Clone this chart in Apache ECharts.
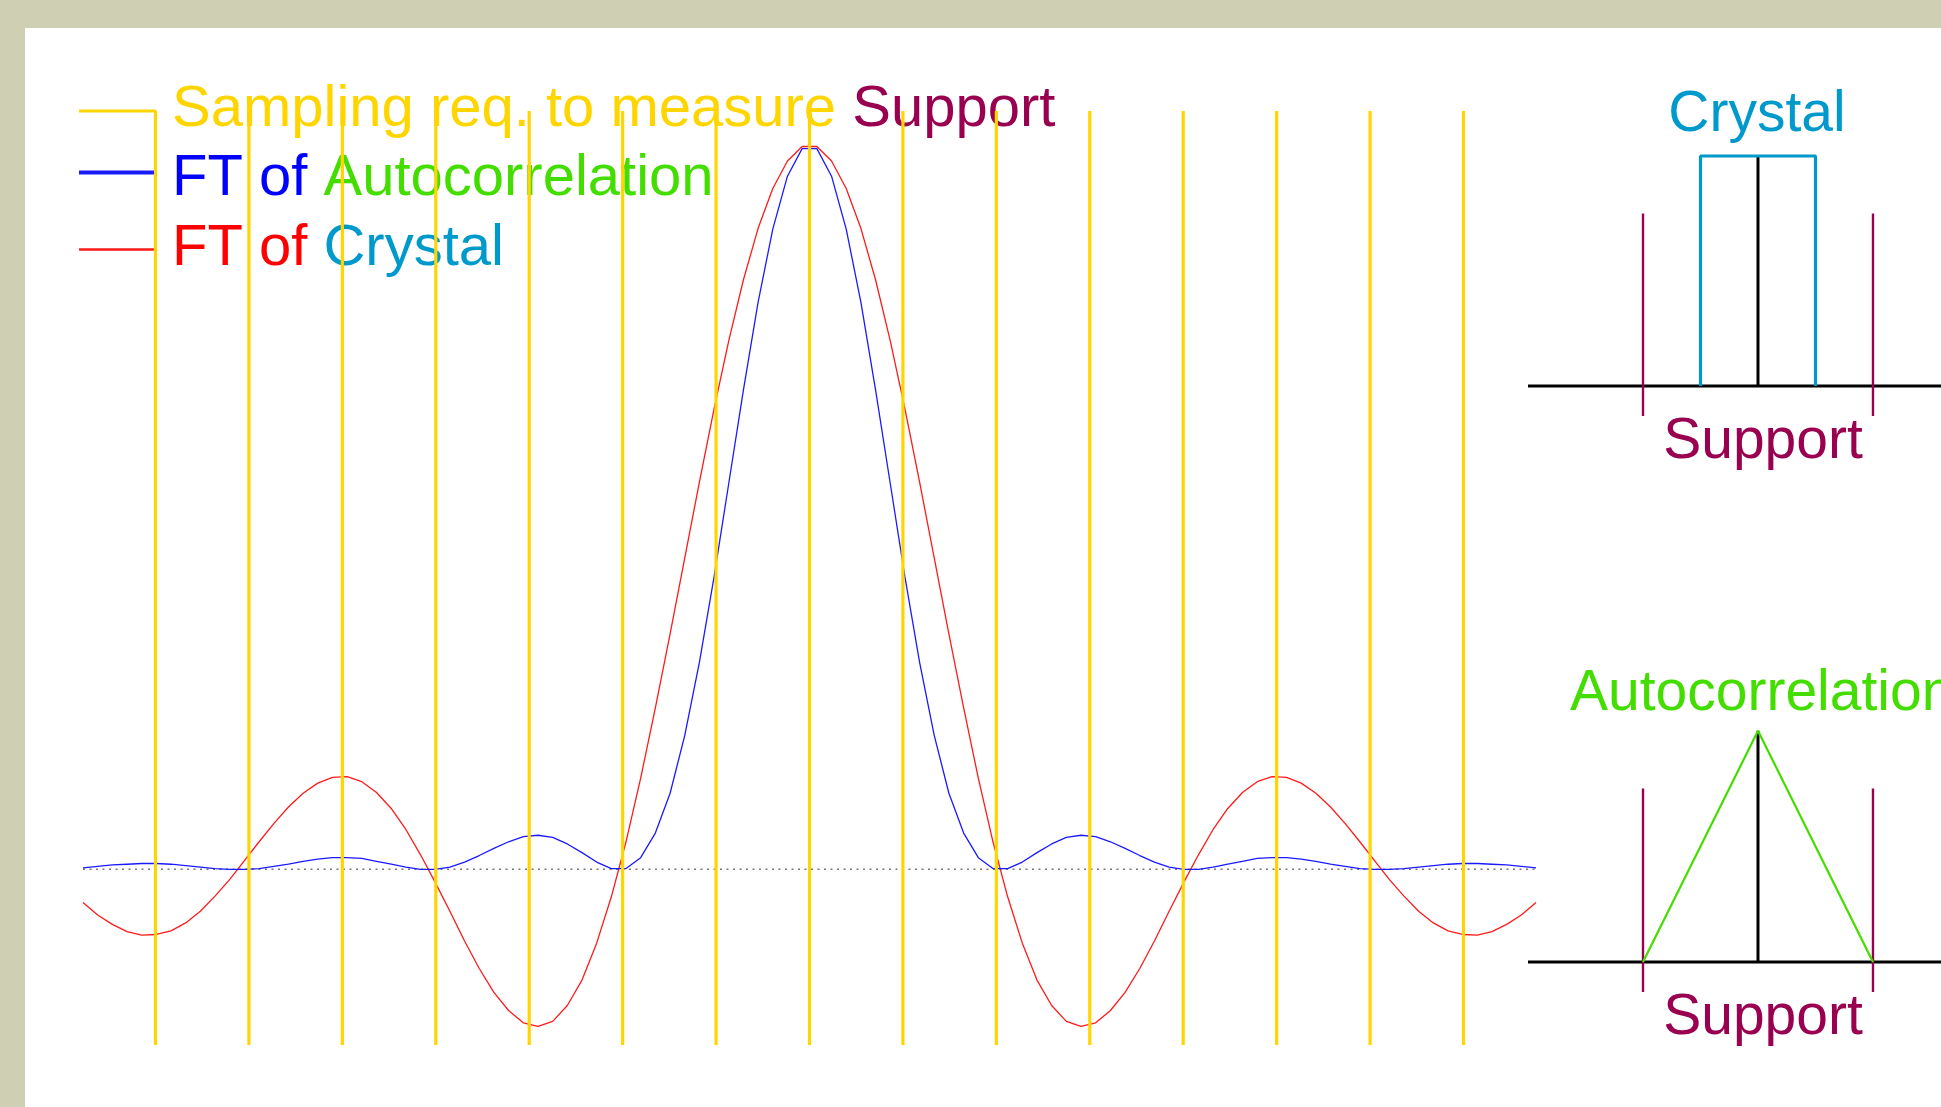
<!DOCTYPE html>
<html>
<head>
<meta charset="utf-8">
<script src="https://cdn.jsdelivr.net/npm/echarts@6/dist/echarts.min.js"></script>
<style>
  html, body { margin: 0; padding: 0; background: #cfcfb4; overflow: hidden; }
  #frame { position: absolute; left: 25px; top: 28px; right: 0; bottom: 0; background: #ffffff; }
  #chart { position: absolute; left: 0; top: 0; width: 1941px; height: 1107px; }
</style>
</head>
<body>
<div id="frame"></div>
<div id="chart"></div>
<script>
// x in units of the sampling interval (yellow lines at integers)
var xs = [
  -7.776, -7.619, -7.462, -7.305, -7.148, -6.991, -6.834, -6.677, -6.520, -6.363,
  -6.205, -6.048, -5.891, -5.734, -5.577, -5.420, -5.263, -5.106, -4.949, -4.792,
  -4.634, -4.477, -4.320, -4.163, -4.006, -3.849, -3.692, -3.535, -3.378, -3.221,
  -3.063, -2.906, -2.749, -2.592, -2.435, -2.278, -2.121, -1.964, -1.807, -1.650,
  -1.492, -1.335, -1.178, -1.021, -0.864, -0.707, -0.550, -0.393, -0.236, -0.079,
  0.079, 0.236, 0.393, 0.550, 0.707, 0.864, 1.021, 1.178, 1.335, 1.492,
  1.650, 1.807, 1.964, 2.121, 2.278, 2.435, 2.592, 2.749, 2.906, 3.063,
  3.221, 3.378, 3.535, 3.692, 3.849, 4.006, 4.163, 4.320, 4.477, 4.634,
  4.792, 4.949, 5.106, 5.263, 5.420, 5.577, 5.734, 5.891, 6.048, 6.205,
  6.363, 6.520, 6.677, 6.834, 6.991, 7.148, 7.305, 7.462, 7.619, 7.776
];
// FT of Crystal (red)
var ftCrystal = [
  -0.046, -0.063, -0.076, -0.086, -0.091, -0.090, -0.085, -0.074, -0.058, -0.037,
  -0.014, 0.012, 0.038, 0.063, 0.086, 0.105, 0.119, 0.127, 0.128, 0.121,
  0.106, 0.084, 0.055, 0.020, -0.018, -0.058, -0.099, -0.137, -0.170, -0.195,
  -0.212, -0.217, -0.210, -0.188, -0.153, -0.102, -0.038, 0.038, 0.126, 0.223,
  0.325, 0.430, 0.535, 0.636, 0.730, 0.814, 0.885, 0.940, 0.978, 0.998,
  0.998, 0.978, 0.940, 0.885, 0.814, 0.730, 0.636, 0.535, 0.430, 0.325,
  0.223, 0.126, 0.038, -0.038, -0.102, -0.153, -0.188, -0.210, -0.217, -0.212,
  -0.195, -0.170, -0.137, -0.099, -0.058, -0.018, 0.020, 0.055, 0.084, 0.106,
  0.121, 0.128, 0.127, 0.119, 0.105, 0.086, 0.063, 0.038, 0.012, -0.014,
  -0.037, -0.058, -0.074, -0.085, -0.090, -0.091, -0.086, -0.076, -0.063, -0.046
];
// FT of Autocorrelation (blue)
var ftAuto = [
  0.002, 0.004, 0.006, 0.007, 0.008, 0.008, 0.007, 0.005, 0.003, 0.001,
  0.000, 0.000, 0.001, 0.004, 0.007, 0.011, 0.014, 0.016, 0.016, 0.015,
  0.011, 0.007, 0.003, 0.000, 0.000, 0.003, 0.010, 0.019, 0.029, 0.038,
  0.045, 0.047, 0.044, 0.035, 0.023, 0.010, 0.001, 0.001, 0.016, 0.050,
  0.105, 0.185, 0.286, 0.404, 0.533, 0.662, 0.783, 0.884, 0.957, 0.995,
  0.995, 0.957, 0.884, 0.783, 0.662, 0.533, 0.404, 0.286, 0.185, 0.105,
  0.050, 0.016, 0.001, 0.001, 0.010, 0.023, 0.035, 0.044, 0.047, 0.045,
  0.038, 0.029, 0.019, 0.010, 0.003, 0.000, 0.000, 0.003, 0.007, 0.011,
  0.015, 0.016, 0.016, 0.014, 0.011, 0.007, 0.004, 0.001, 0.000, 0.000,
  0.001, 0.003, 0.005, 0.007, 0.008, 0.008, 0.007, 0.006, 0.004, 0.002
];
// sampling positions (yellow lines)
var samplePos = [-7, -6, -5, -4, -3, -2, -1, 0, 1, 2, 3, 4, 5, 6, 7];
var yMin = -0.2426, yMax = 1.047;

// inset diagrams (own units: crystal half width = 1, height = 1)
var insetAxisX = [-4, 4];
var supportX = [-2, 2];
var supportY = [-0.13, 0.75];
var crystalX = [-1, -1, 1, 1];
var crystalY = [0, 1, 1, 0];
var autoX = [-2, 0, 2];
var autoY = [0, 1, 0];

var FONT = '"Liberation Sans", Arial, sans-serif';
var C = {
  yellow: '#ffd500', maroon: '#990050', blue: '#0000ff', green: '#44dd00',
  red: '#ff0000', crystal: '#0099cc', black: '#000000'
};

function pairs(a, b) { return a.map(function (v, i) { return [v, b[i]]; }); }

var yellowData = [];
samplePos.forEach(function (x) {
  yellowData.push([x, yMin], [x, yMax], [x, '-']);
});
var supportData = [];
supportX.forEach(function (x) {
  supportData.push([x, supportY[0]], [x, supportY[1]], [x, '-']);
});

function tok(color) {
  return { color: color, fontSize: 58, fontFamily: FONT, lineHeight: 60 };
}
var legendLabels = {
  'Sampling': '{y|Sampling req. to measure }{m|Support}',
  'FT Auto': '{b|FT of }{g|Autocorrelation}',
  'FT Crystal': '{r|FT of }{c|Crystal}'
};
var hideDot = { color: 'rgba(0,0,0,0)', borderColor: 'rgba(0,0,0,0)', borderWidth: 0, opacity: 0 };

function insetSeries(g, shape) {
  return [
    { type: 'line', xAxisIndex: g, yAxisIndex: g, symbol: 'none', z: 3,
      data: pairs(insetAxisX, [0, 0]), lineStyle: { color: C.black, width: 3 } },
    { type: 'line', xAxisIndex: g, yAxisIndex: g, symbol: 'none', z: 3,
      data: supportData, lineStyle: { color: C.maroon, width: 2.4 } },
    { type: 'line', xAxisIndex: g, yAxisIndex: g, symbol: 'none', z: 3,
      data: [[0, 0], [0, 1]], lineStyle: { color: C.black, width: 3 } },
    shape
  ];
}

var chart = echarts.init(document.getElementById('chart'));
var option = {
  backgroundColor: 'transparent',
  animation: false,
  legend: {
    left: 77, top: 80, orient: 'vertical', padding: 0, itemGap: -6,
    itemWidth: 77, itemHeight: 14, selectedMode: false, z: 4,
    data: [
      { name: 'Sampling', lineStyle: { width: 3 }, itemStyle: hideDot,
        textStyle: { padding: [0, 0, 2, 11] } },
      { name: 'FT Auto', lineStyle: { width: 4 }, itemStyle: hideDot,
        textStyle: { padding: [13, 0, 0, 11] } },
      { name: 'FT Crystal', lineStyle: { width: 2.5 }, itemStyle: hideDot,
        textStyle: { padding: [16, 0, 17, 11] } }
    ],
    formatter: function (name) { return legendLabels[name]; },
    textStyle: {
      fontSize: 58, fontFamily: FONT, lineHeight: 60, padding: [0, 0, 0, 11],
      rich: {
        y: tok(C.yellow), m: tok(C.maroon), b: tok(C.blue),
        g: tok(C.green), r: tok(C.red), c: tok(C.crystal)
      }
    }
  },
  grid: [
    { left: 83, top: 111, width: 1453, height: 934 },
    { left: 1528, top: 41, right: 0, height: 460 },
    { left: 1528, top: 615, right: 0, height: 462.6 }
  ],
  xAxis: [
    { type: 'value', gridIndex: 0, min: xs[0], max: xs[xs.length - 1], show: false },
    { type: 'value', gridIndex: 1, min: -4, max: 3.183, show: false },
    { type: 'value', gridIndex: 2, min: -4, max: 3.183, show: false }
  ],
  yAxis: [
    { type: 'value', gridIndex: 0, min: yMin, max: yMax, show: false },
    { type: 'value', gridIndex: 1, min: -0.5, max: 1.5, show: false },
    { type: 'value', gridIndex: 2, min: -0.5, max: 1.5, show: false }
  ],
  graphic: [
    { type: 'text', x: 1757, y: 115, silent: true,
      style: { text: 'Crystal', fill: C.crystal, fontSize: 57, fontFamily: FONT, align: 'center', verticalAlign: 'middle' } },
    { type: 'text', x: 1763, y: 442, silent: true,
      style: { text: 'Support', fill: C.maroon, fontSize: 57, fontFamily: FONT, align: 'center', verticalAlign: 'middle' } },
    { type: 'text', x: 1570, y: 694, silent: true,
      style: { text: 'Autocorrelation', fill: C.green, fontSize: 57, fontFamily: FONT, align: 'left', verticalAlign: 'middle' } },
    { type: 'text', x: 1763, y: 1018, silent: true,
      style: { text: 'Support', fill: C.maroon, fontSize: 57, fontFamily: FONT, align: 'center', verticalAlign: 'middle' } }
  ],
  series: [
    { name: 'zero', type: 'line', symbol: 'none', z: 1,
      data: [[xs[0], 0], [xs[xs.length - 1], 0]],
      lineStyle: { color: '#777777', width: 1.6, type: [2, 4.5] } },
    { name: 'FT Crystal', type: 'line', symbol: 'none', z: 2,
      data: pairs(xs, ftCrystal),
      itemStyle: { color: C.red },
      lineStyle: { color: '#ff1a1a', width: 1.3 } },
    { name: 'FT Auto', type: 'line', symbol: 'none', z: 3,
      data: pairs(xs, ftAuto),
      itemStyle: { color: C.blue },
      lineStyle: { color: '#1a1aff', width: 1.3 } },
    { name: 'Sampling', type: 'line', symbol: 'none', z: 6, connectNulls: false,
      data: yellowData,
      itemStyle: { color: C.yellow },
      lineStyle: { color: C.yellow, width: 3.2, cap: 'butt' } }
  ]
    .concat(insetSeries(1, { type: 'line', xAxisIndex: 1, yAxisIndex: 1, symbol: 'none', z: 4,
      data: pairs(crystalX, crystalY), lineStyle: { color: C.crystal, width: 3.2 } }))
    .concat(insetSeries(2, { type: 'line', xAxisIndex: 2, yAxisIndex: 2, symbol: 'none', z: 4,
      data: pairs(autoX, autoY), lineStyle: { color: C.green, width: 2.2 } }))
};
chart.setOption(option);
</script>
</body>
</html>
